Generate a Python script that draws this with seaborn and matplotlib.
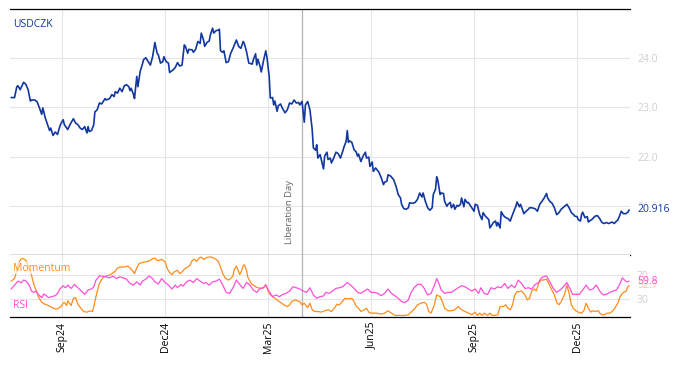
import matplotlib
matplotlib.use("Agg")
import matplotlib.pyplot as plt
import matplotlib.transforms as mtransforms
import matplotlib.dates as mdates
import pandas as pd
import seaborn as sns

# ---------------- data ----------------
usd_dates = """
2024-07-19 2024-07-22 2024-07-24 2024-07-25 2024-07-27 2024-07-29 2024-07-30 2024-08-01 2024-08-03 2024-08-05
2024-08-06 2024-08-09 2024-08-11 2024-08-13 2024-08-15 2024-08-16 2024-08-18 2024-08-20 2024-08-22 2024-08-23
2024-08-25 2024-08-27 2024-08-29 2024-08-31 2024-09-01 2024-09-03 2024-09-04 2024-09-07 2024-09-09 2024-09-12
2024-09-14 2024-09-16 2024-09-18 2024-09-20 2024-09-22 2024-09-24 2024-09-25 2024-09-26 2024-09-28 2024-09-30
2024-10-01 2024-10-03 2024-10-05 2024-10-07 2024-10-10 2024-10-11 2024-10-14 2024-10-16 2024-10-18 2024-10-19
2024-10-21 2024-10-23 2024-10-25 2024-10-27 2024-10-29 2024-10-31 2024-11-01 2024-11-02 2024-11-04 2024-11-05
2024-11-07 2024-11-08 2024-11-10 2024-11-12 2024-11-13 2024-11-15 2024-11-18 2024-11-19 2024-11-21 2024-11-23
2024-11-25 2024-11-26 2024-11-28 2024-11-30 2024-12-01 2024-12-03 2024-12-05 2024-12-06 2024-12-09 2024-12-11
2024-12-13 2024-12-15 2024-12-17 2024-12-19 2024-12-20 2024-12-22 2024-12-23 2024-12-26 2024-12-27 2024-12-29
2024-12-31 2025-01-02 2025-01-03 2025-01-05 2025-01-06 2025-01-08 2025-01-10 2025-01-11 2025-01-13 2025-01-14
2025-01-16 2025-01-18 2025-01-19 2025-01-20 2025-01-22 2025-01-23 2025-01-25 2025-01-27 2025-01-29 2025-01-31
2025-02-03 2025-02-05 2025-02-07 2025-02-09 2025-02-10 2025-02-12 2025-02-14 2025-02-17 2025-02-18 2025-02-20
2025-02-21 2025-02-22 2025-02-24 2025-02-25 2025-02-27 2025-03-01 2025-03-02 2025-03-04 2025-03-05 2025-03-07
2025-03-08 2025-03-09 2025-03-11 2025-03-12 2025-03-14 2025-03-16 2025-03-18 2025-03-20 2025-03-22 2025-03-24
2025-03-26 2025-03-28 2025-03-30 2025-03-31 2025-04-02 2025-04-04 2025-04-05 2025-04-07 2025-04-09 2025-04-11
2025-04-12 2025-04-14 2025-04-15 2025-04-16 2025-04-18 2025-04-19 2025-04-21 2025-04-22 2025-04-24 2025-04-25
2025-04-27 2025-04-28 2025-04-30 2025-05-02 2025-05-04 2025-05-06 2025-05-08 2025-05-09 2025-05-11 2025-05-12
2025-05-13 2025-05-14 2025-05-16 2025-05-18 2025-05-20 2025-05-21 2025-05-22 2025-05-24 2025-05-26 2025-05-28
2025-05-29 2025-05-31 2025-06-01 2025-06-03 2025-06-04 2025-06-06 2025-06-07 2025-06-09 2025-06-11 2025-06-13
2025-06-14 2025-06-16 2025-06-17 2025-06-19 2025-06-22 2025-06-24 2025-06-26 2025-06-28 2025-06-29 2025-07-01
2025-07-03 2025-07-05 2025-07-06 2025-07-09 2025-07-11 2025-07-13 2025-07-15 2025-07-17 2025-07-18 2025-07-20
2025-07-22 2025-07-24 2025-07-26 2025-07-27 2025-07-29 2025-07-30 2025-07-31 2025-08-02 2025-08-03 2025-08-05
2025-08-06 2025-08-08 2025-08-09 2025-08-11 2025-08-12 2025-08-14 2025-08-15 2025-08-17 2025-08-18 2025-08-20
2025-08-21 2025-08-23 2025-08-24 2025-08-26 2025-08-27 2025-08-28 2025-08-30 2025-09-01 2025-09-02 2025-09-04
2025-09-06 2025-09-08 2025-09-09 2025-09-11 2025-09-14 2025-09-15 2025-09-17 2025-09-18 2025-09-20 2025-09-21
2025-09-22 2025-09-24 2025-09-25 2025-09-27 2025-09-29 2025-10-01 2025-10-03 2025-10-04 2025-10-07 2025-10-08
2025-10-09 2025-10-11 2025-10-12 2025-10-14 2025-10-15 2025-10-17 2025-10-19 2025-10-20 2025-10-22 2025-10-25
2025-10-27 2025-10-29 2025-10-31 2025-11-02 2025-11-04 2025-11-05 2025-11-07 2025-11-09 2025-11-11 2025-11-13
2025-11-15 2025-11-17 2025-11-20 2025-11-22 2025-11-24 2025-11-26 2025-11-28 2025-11-29 2025-12-01 2025-12-02
2025-12-04 2025-12-05 2025-12-06 2025-12-08 2025-12-10 2025-12-11 2025-12-12 2025-12-14 2025-12-17 2025-12-19
2025-12-21 2025-12-23 2025-12-25 2025-12-27 2025-12-29 2026-01-01 2026-01-03 2026-01-04 2026-01-06 2026-01-08
2026-01-09 2026-01-11 2026-01-12 2026-01-13 2026-01-15 2026-01-16
""".split()

usd_values = [
    23.20, 23.20, 23.42, 23.44, 23.36, 23.46, 23.51, 23.47, 23.36, 23.13,
    23.15, 23.15, 23.11, 22.99, 22.86, 22.99, 22.80, 22.66, 22.53, 22.58,
    22.43, 22.50, 22.45, 22.61, 22.67, 22.75, 22.65, 22.55, 22.65, 22.77,
    22.68, 22.65, 22.58, 22.55, 22.61, 22.48, 22.61, 22.51, 22.53, 22.65,
    22.91, 22.95, 23.09, 23.07, 23.18, 23.15, 23.18, 23.26, 23.22, 23.32,
    23.29, 23.39, 23.32, 23.44, 23.46, 23.42, 23.34, 23.39, 23.27, 23.18,
    23.63, 23.42, 23.73, 23.88, 23.97, 24.01, 23.90, 23.86, 24.03, 24.32,
    24.10, 24.07, 23.90, 23.93, 24.03, 23.93, 23.90, 23.71, 23.76, 23.81,
    23.91, 23.84, 23.86, 24.27, 24.24, 24.10, 24.18, 24.17, 24.12, 24.18,
    24.34, 24.30, 24.51, 24.37, 24.24, 24.32, 24.35, 24.47, 24.61, 24.51,
    24.56, 24.57, 24.59, 24.15, 24.12, 24.15, 23.91, 23.93, 24.10, 24.20,
    24.37, 24.24, 24.20, 24.34, 24.30, 24.13, 23.90, 23.88, 23.97, 24.09,
    23.86, 23.98, 23.83, 23.72, 23.95, 24.15, 24.02, 23.63, 23.19, 23.20,
    23.05, 23.13, 22.92, 23.03, 23.07, 22.97, 22.89, 22.95, 23.09, 23.07,
    23.15, 23.09, 23.10, 23.05, 23.12, 22.70, 23.05, 23.12, 22.95, 22.55,
    22.18, 22.13, 22.24, 21.97, 22.04, 21.94, 21.75, 22.01, 22.09, 21.94,
    21.97, 21.87, 21.97, 22.09, 22.06, 21.97, 22.11, 22.19, 22.31, 22.53,
    22.29, 22.32, 22.29, 22.14, 22.09, 22.01, 22.05, 21.90, 22.01, 22.09,
    21.97, 21.99, 21.80, 21.89, 21.70, 21.77, 21.74, 21.68, 21.57, 21.43,
    21.48, 21.50, 21.63, 21.61, 21.53, 21.40, 21.23, 21.16, 21.03, 20.94,
    20.93, 20.96, 21.06, 21.05, 21.07, 21.13, 21.26, 21.18, 21.26, 21.09,
    20.96, 20.91, 20.96, 21.23, 21.34, 21.59, 21.52, 21.23, 21.26, 21.25,
    21.09, 20.99, 21.03, 21.07, 20.96, 21.03, 20.93, 21.01, 20.99, 21.03,
    21.16, 20.98, 21.13, 21.06, 21.07, 21.03, 20.96, 20.89, 21.03, 21.01,
    20.82, 20.72, 20.86, 20.79, 20.72, 20.55, 20.62, 20.66, 20.69, 20.59,
    20.66, 20.55, 20.88, 20.80, 20.76, 20.74, 20.69, 20.76, 20.94, 20.99,
    21.08, 20.98, 21.03, 20.91, 20.84, 20.89, 20.93, 20.96, 20.96, 20.94,
    20.89, 21.03, 21.09, 21.16, 21.25, 21.16, 21.09, 21.05, 20.96, 20.82,
    20.86, 20.93, 20.99, 21.03, 20.96, 20.86, 20.82, 20.79, 20.78, 20.72,
    20.69, 20.82, 20.87, 20.76, 20.78, 20.67, 20.69, 20.72, 20.79, 20.80,
    20.74, 20.66, 20.64, 20.66, 20.64, 20.67, 20.64, 20.67, 20.71, 20.82,
    20.89, 20.84, 20.84, 20.84, 20.87, 20.916,
]

rsi_dates = """
2024-07-19 2024-07-22 2024-07-25 2024-07-28 2024-07-30 2024-08-01 2024-08-04 2024-08-06 2024-08-08 2024-08-10
2024-08-12 2024-08-15 2024-08-17 2024-08-19 2024-08-21 2024-08-24 2024-08-27 2024-08-29 2024-08-31 2024-09-03
2024-09-05 2024-09-07 2024-09-10 2024-09-13 2024-09-16 2024-09-19 2024-09-22 2024-09-25 2024-09-28 2024-09-30
2024-10-02 2024-10-05 2024-10-08 2024-10-11 2024-10-14 2024-10-17 2024-10-20 2024-10-23 2024-10-26 2024-10-29
2024-11-01 2024-11-04 2024-11-07 2024-11-10 2024-11-12 2024-11-15 2024-11-18 2024-11-21 2024-11-23 2024-11-26
2024-11-29 2024-12-02 2024-12-05 2024-12-08 2024-12-11 2024-12-13 2024-12-16 2024-12-18 2024-12-21 2024-12-24
2024-12-27 2024-12-30 2025-01-02 2025-01-05 2025-01-07 2025-01-10 2025-01-13 2025-01-16 2025-01-19 2025-01-22
2025-01-25 2025-01-28 2025-01-31 2025-02-03 2025-02-06 2025-02-09 2025-02-12 2025-02-15 2025-02-18 2025-02-21
2025-02-24 2025-02-27 2025-03-01 2025-03-04 2025-03-07 2025-03-10 2025-03-13 2025-03-16 2025-03-19 2025-03-22
2025-03-25 2025-03-28 2025-03-31 2025-04-03 2025-04-06 2025-04-09 2025-04-12 2025-04-15 2025-04-18 2025-04-21
2025-04-23 2025-04-26 2025-04-29 2025-05-02 2025-05-05 2025-05-08 2025-05-12 2025-05-15 2025-05-18 2025-05-21
2025-05-24 2025-05-27 2025-05-30 2025-06-02 2025-06-05 2025-06-08 2025-06-11 2025-06-14 2025-06-17 2025-06-20
2025-06-23 2025-06-26 2025-06-29 2025-07-02 2025-07-05 2025-07-07 2025-07-10 2025-07-13 2025-07-16 2025-07-19
2025-07-22 2025-07-25 2025-07-28 2025-07-30 2025-08-01 2025-08-03 2025-08-06 2025-08-09 2025-08-12 2025-08-15
2025-08-18 2025-08-21 2025-08-24 2025-08-27 2025-08-30 2025-09-02 2025-09-05 2025-09-07 2025-09-10 2025-09-13
2025-09-16 2025-09-19 2025-09-22 2025-09-25 2025-09-28 2025-10-01 2025-10-04 2025-10-07 2025-10-10 2025-10-13
2025-10-16 2025-10-19 2025-10-22 2025-10-25 2025-10-28 2025-10-30 2025-11-01 2025-11-04 2025-11-07 2025-11-10
2025-11-13 2025-11-16 2025-11-19 2025-11-22 2025-11-25 2025-11-27 2025-11-30 2025-12-03 2025-12-06 2025-12-09
2025-12-12 2025-12-15 2025-12-18 2025-12-21 2025-12-24 2025-12-27 2025-12-30 2026-01-02 2026-01-05 2026-01-08
2026-01-10 2026-01-12 2026-01-14 2026-01-16
""".split()

rsi_values = [
    46.7, 53.3, 60.0, 57.2, 61.7, 60.5, 53.3, 43.3, 41.0, 43.3,
    37.7, 32.2, 38.3, 35.5, 32.2, 33.8, 35.5, 39.3, 46.7, 52.2,
    48.8, 53.3, 47.7, 54.3, 48.8, 43.3, 37.7, 45.0, 46.7, 50.5,
    61.7, 68.8, 68.3, 67.2, 65.5, 68.3, 64.3, 67.2, 65.5, 63.3,
    56.0, 53.3, 58.8, 53.3, 60.0, 63.3, 68.8, 64.3, 58.8, 55.0,
    64.3, 57.7, 53.3, 46.7, 53.3, 48.8, 54.3, 51.7, 58.8, 61.7,
    57.7, 64.3, 60.0, 56.0, 57.7, 53.3, 58.8, 60.0, 63.3, 53.3,
    41.0, 39.3, 48.8, 61.7, 54.3, 47.7, 57.7, 53.3, 45.0, 41.0,
    47.7, 48.8, 53.3, 42.2, 33.8, 36.7, 33.8, 37.7, 39.3, 43.3,
    50.5, 48.8, 46.7, 43.3, 41.0, 48.8, 36.7, 31.0, 33.8, 35.0,
    41.0, 39.3, 43.3, 47.7, 48.8, 50.5, 57.7, 53.3, 47.7, 41.0,
    39.3, 43.3, 46.7, 41.0, 41.0, 39.3, 35.5, 39.3, 46.7, 39.3,
    35.5, 31.0, 25.5, 23.8, 28.3, 39.3, 48.8, 54.3, 55.0, 47.7,
    36.7, 39.3, 53.3, 64.3, 56.0, 45.0, 39.3, 41.0, 41.0, 45.0,
    48.8, 52.2, 50.5, 46.7, 43.3, 46.7, 39.3, 48.8, 39.3, 37.7,
    48.8, 46.7, 50.5, 48.8, 56.0, 47.7, 53.3, 48.8, 61.7, 56.0,
    47.7, 48.8, 46.7, 54.3, 57.7, 64.3, 67.2, 68.8, 58.8, 47.7,
    41.0, 45.0, 50.5, 57.7, 46.7, 37.7, 37.7, 37.7, 45.0, 53.3,
    45.0, 46.7, 53.3, 43.3, 36.7, 37.7, 41.0, 43.3, 45.0, 56.0,
    65.5, 61.7, 58.8, 59.8,
]

mom_dates = """
2024-07-19 2024-07-22 2024-07-24 2024-07-26 2024-07-28 2024-07-30 2024-08-01 2024-08-03 2024-08-06 2024-08-08
2024-08-10 2024-08-12 2024-08-15 2024-08-18 2024-08-21 2024-08-24 2024-08-27 2024-08-29 2024-09-01 2024-09-03
2024-09-04 2024-09-06 2024-09-07 2024-09-10 2024-09-12 2024-09-14 2024-09-16 2024-09-19 2024-09-21 2024-09-24
2024-09-27 2024-09-29 2024-10-01 2024-10-03 2024-10-05 2024-10-08 2024-10-11 2024-10-14 2024-10-16 2024-10-19
2024-10-21 2024-10-24 2024-10-27 2024-10-30 2024-11-01 2024-11-03 2024-11-05 2024-11-07 2024-11-09 2024-11-11
2024-11-14 2024-11-17 2024-11-19 2024-11-21 2024-11-23 2024-11-25 2024-11-27 2024-11-29 2024-12-02 2024-12-04
2024-12-06 2024-12-08 2024-12-10 2024-12-13 2024-12-15 2024-12-17 2024-12-19 2024-12-22 2024-12-24 2024-12-26
2024-12-28 2024-12-30 2025-01-01 2025-01-03 2025-01-05 2025-01-07 2025-01-09 2025-01-12 2025-01-14 2025-01-16
2025-01-18 2025-01-20 2025-01-22 2025-01-24 2025-01-27 2025-01-29 2025-01-31 2025-02-01 2025-02-03 2025-02-04
2025-02-06 2025-02-07 2025-02-09 2025-02-10 2025-02-12 2025-02-13 2025-02-16 2025-02-18 2025-02-20 2025-02-22
2025-02-25 2025-02-27 2025-03-01 2025-03-02 2025-03-04 2025-03-07 2025-03-09 2025-03-11 2025-03-13 2025-03-15
2025-03-18 2025-03-20 2025-03-22 2025-03-24 2025-03-27 2025-03-29 2025-03-31 2025-04-02 2025-04-04 2025-04-07
2025-04-09 2025-04-11 2025-04-13 2025-04-16 2025-04-19 2025-04-22 2025-04-25 2025-04-28 2025-05-01 2025-05-03
2025-05-05 2025-05-07 2025-05-10 2025-05-13 2025-05-16 2025-05-18 2025-05-20 2025-05-22 2025-05-24 2025-05-27
2025-05-29 2025-05-31 2025-06-02 2025-06-07 2025-06-11 2025-06-14 2025-06-17 2025-06-20 2025-06-23 2025-06-27
2025-07-02 2025-07-05 2025-07-08 2025-07-11 2025-07-13 2025-07-16 2025-07-19 2025-07-21 2025-07-23 2025-07-25
2025-07-28 2025-07-30 2025-08-02 2025-08-04 2025-08-06 2025-08-09 2025-08-12 2025-08-15 2025-08-18 2025-08-21
2025-08-24 2025-08-27 2025-08-30 2025-09-02 2025-09-04 2025-09-06 2025-09-08 2025-09-10 2025-09-13 2025-09-15
2025-09-17 2025-09-19 2025-09-22 2025-09-24 2025-09-27 2025-09-29 2025-10-01 2025-10-03 2025-10-05 2025-10-07
2025-10-09 2025-10-11 2025-10-13 2025-10-16 2025-10-18 2025-10-20 2025-10-22 2025-10-24 2025-10-26 2025-10-28
2025-10-30 2025-11-01 2025-11-04 2025-11-06 2025-11-08 2025-11-11 2025-11-13 2025-11-15 2025-11-17 2025-11-20
2025-11-22 2025-11-24 2025-11-26 2025-11-28 2025-11-30 2025-12-02 2025-12-05 2025-12-07 2025-12-09 2025-12-11
2025-12-13 2025-12-15 2025-12-17 2025-12-20 2025-12-21 2025-12-23 2025-12-25 2025-12-28 2025-12-30 2026-01-01
2026-01-03 2026-01-06 2026-01-08 2026-01-10 2026-01-12 2026-01-13 2026-01-15 2026-01-16
""".split()

mom_values = [
    60.0, 64.3, 78.3, 92.2, 97.7, 97.7, 95.0, 86.7, 70.0, 54.3,
    45.0, 33.8, 24.3, 21.0, 18.8, 15.5, 13.3, 13.3, 17.2, 22.7,
    24.3, 18.8, 26.7, 18.8, 31.0, 32.2, 21.0, 13.3, 8.8, 7.7,
    10.0, 8.8, 25.5, 42.2, 56.0, 65.5, 68.8, 70.0, 72.7, 76.7,
    82.2, 83.8, 83.8, 85.5, 82.2, 78.3, 72.7, 82.2, 89.3, 91.0,
    92.2, 93.3, 95.0, 97.7, 98.8, 95.0, 95.0, 96.7, 92.2, 81.0,
    74.3, 71.0, 75.5, 78.3, 72.7, 75.5, 80.0, 83.8, 86.7, 95.0,
    96.7, 93.3, 98.8, 100.5, 96.7, 98.8, 100.5, 100.5, 98.8, 96.7,
    93.3, 83.8, 72.7, 65.5, 61.7, 64.3, 68.8, 78.3, 85.5, 81.0,
    71.0, 74.3, 85.5, 87.7, 78.3, 67.2, 56.0, 53.3, 50.5, 48.8,
    47.7, 48.8, 54.3, 48.8, 39.3, 33.8, 31.0, 28.3, 25.5, 22.7,
    18.8, 17.2, 20.0, 25.5, 28.3, 26.7, 25.5, 20.0, 22.7, 15.5,
    22.7, 11.7, 8.8, 8.8, 7.7, 10.0, 11.7, 8.8, 15.5, 21.0,
    20.0, 24.3, 31.0, 30.0, 31.0, 25.5, 17.2, 14.3, 8.8, 11.7,
    14.3, 7.7, 6.0, 6.0, 4.3, 6.0, 10.0, 6.0, 2.2, 2.2,
    2.2, 3.3, 8.8, 14.3, 20.0, 22.7, 24.3, 21.0, 8.8, 6.0,
    20.0, 36.7, 33.8, 25.5, 14.3, 10.0, 10.0, 11.7, 17.2, 11.7,
    8.8, 6.0, 3.3, 7.7, 2.2, 6.0, 2.2, 6.0, 2.2, 6.0,
    2.2, 2.2, 3.3, 17.2, 17.2, 20.0, 14.3, 11.7, 20.0, 36.7,
    42.2, 42.2, 43.3, 36.7, 28.3, 31.0, 43.3, 46.7, 43.3, 56.0,
    61.7, 61.7, 63.3, 56.0, 47.7, 36.7, 24.3, 20.0, 25.5, 37.7,
    53.3, 39.3, 20.0, 13.3, 10.0, 7.7, 6.0, 10.0, 22.7, 14.3,
    7.7, 10.0, 8.8, 10.0, 6.0, 3.3, 3.3, 6.0, 6.0, 8.8,
    13.3, 22.7, 33.8, 39.3, 42.2, 42.2, 50.5, 52.7,
]

tick_dates = ["2024-09-02", "2024-12-02", "2025-03-03", "2025-06-02", "2025-09-01", "2025-12-01"]
tick_labels = ["Sep24", "Dec24", "Mar25", "Jun25", "Sep25", "Dec25"]
price_ticks = [21.0, 22.0, 23.0, 24.0]
ind_ticks = [30, 70]
event_date = "2025-04-02"
event_label = "Liberation Day"
series_name = "USDCZK"

# ---------------- style ----------------
BLUE = "#1238a0"
ORANGE = "#ff8c1a"
PINK = "#ff4fd8"
GRID = "#e6e6e6"
TICKGRAY = "#cfcfcf"

sns.set_style("white")
plt.rcParams["font.family"] = ["Open Sans", "DejaVu Sans"]

usd = pd.DataFrame({"date": pd.to_datetime(usd_dates), "value": usd_values})
rsi = pd.DataFrame({"date": pd.to_datetime(rsi_dates), "value": rsi_values})
mom = pd.DataFrame({"date": pd.to_datetime(mom_dates), "value": mom_values})

W, H = 681, 366
fig = plt.figure(figsize=(W / 100, H / 100), dpi=100)
ax1 = fig.add_axes([10 / W, 1 - 255 / H, 620 / W, 246 / H])
ax2 = fig.add_axes([10 / W, 1 - 317 / H, 620 / W, 62 / H], sharex=ax1)

sns.lineplot(data=usd, x="date", y="value", ax=ax1, color=BLUE, linewidth=1.2)
sns.lineplot(data=mom, x="date", y="value", ax=ax2, color=ORANGE, linewidth=0.9)
sns.lineplot(data=rsi, x="date", y="value", ax=ax2, color=PINK, linewidth=0.9)

ax1.set_xlim(pd.Timestamp("2024-07-18"), pd.Timestamp("2026-01-16 19:00"))
ax1.set_ylim(20.0, 25.0)
ax2.set_ylim(-0.5, 104)

event_x = mdates.date2num(pd.Timestamp(event_date))

for ax in (ax1, ax2):
    ax.set_xlabel("")
    ax.set_ylabel("")
    ax.grid(True, color=GRID, linewidth=0.8)
    ax.set_axisbelow(True)
    for s in ("left", "right"):
        ax.spines[s].set_visible(False)
    for s in ("top", "bottom"):
        ax.spines[s].set_color("black")
        ax.spines[s].set_linewidth(0.9)
    ax.yaxis.tick_right()
    ax.tick_params(axis="y", length=0, pad=5, labelsize=7.5, labelcolor=TICKGRAY)
    ax.tick_params(axis="x", direction="in", length=4, width=0.8, color="black")
    ax.axvline(event_x, color="#b5b5b5", linewidth=0.9, zorder=1)

ax2.spines["top"].set_visible(False)
ax1.set_xticks(pd.to_datetime(tick_dates))
ax2.set_xticks(pd.to_datetime(tick_dates))
ax2.set_xticklabels(tick_labels, rotation=90, fontsize=7.5, color="black")
ax1.tick_params(axis="x", labelbottom=False)

ax1.set_yticks(price_ticks)
ax1.set_yticklabels([f"{v:.1f}" for v in price_ticks])
ax2.set_yticks(ind_ticks)
ax2.set_yticklabels([str(v) for v in ind_ticks])

# labels
ax1.text(0.005, 0.935, series_name, transform=ax1.transAxes, color=BLUE,
         fontsize=7.5, ha="left", va="center")
ax2.text(0.005, 0.79, "Momentum", transform=ax2.transAxes, color=ORANGE,
         fontsize=7.5, ha="left", va="center",
         bbox=dict(facecolor="white", alpha=0.6, edgecolor="none", pad=0.5))
ax2.text(0.005, 0.18, "RSI", transform=ax2.transAxes, color=PINK,
         fontsize=7.5, ha="left", va="center")

# last value labels
t1 = ax1.get_yaxis_transform()
ax1.annotate(f"{usd_values[-1]:.3f}", xy=(1, usd_values[-1]), xycoords=t1,
             xytext=(5, 0), textcoords="offset points", color=BLUE, fontsize=7.5,
             ha="left", va="center", annotation_clip=False,
             bbox=dict(facecolor="white", edgecolor="none", pad=0.8))
t2 = ax2.get_yaxis_transform()
ax2.annotate(f"{mom_values[-1]:.1f}", xy=(1, mom_values[-1]), xycoords=t2,
             xytext=(5, 0), textcoords="offset points", color="#ffc48a", fontsize=7.5,
             ha="left", va="center", annotation_clip=False,
             bbox=dict(facecolor="white", edgecolor="none", pad=0.3))
ax2.annotate(f"{rsi_values[-1]:.1f}", xy=(1, rsi_values[-1]), xycoords=t2,
             xytext=(5, 0), textcoords="offset points", color=PINK, fontsize=7.5,
             ha="left", va="center", annotation_clip=False)

# event annotation
trans = mtransforms.blended_transform_factory(ax1.transData, ax1.transAxes)
ax1.annotate(event_label, xy=(event_x, 0.045), xycoords=trans,
             xytext=(-6, 0), textcoords="offset points", rotation=90,
             ha="right", va="bottom", fontsize=6.8, color="#666666")

fig.savefig("out.png", dpi=100)
